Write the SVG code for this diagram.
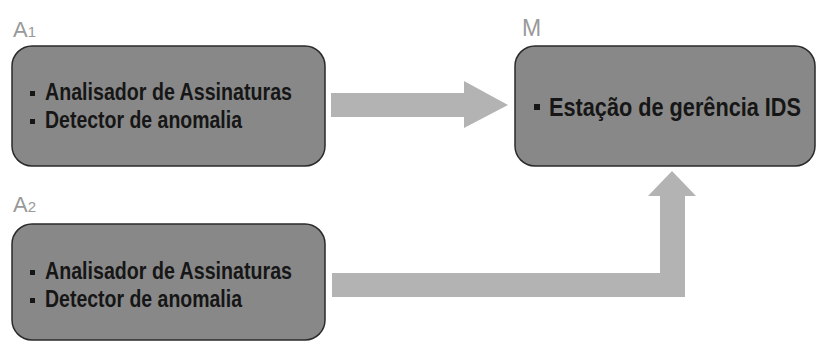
<svg xmlns="http://www.w3.org/2000/svg" width="818" height="341" viewBox="0 0 818 341">
<style>
.box{fill:#888888;stroke:#2a2a2a;stroke-width:1.5}
.lbl{font-family:"Liberation Sans",Arial,sans-serif;fill:#999999}
.txt{font-family:"Liberation Sans",Arial,sans-serif;font-weight:bold;fill:#161616;font-size:23px}
.bul{fill:#161616}
.arr{fill:#b3b3b3}
</style>
<rect width="818" height="341" fill="#ffffff"/>
<g id="connectors">
<polygon class="arr" points="331,93 464,93 464,81 508,105 464,128 464,117 331,117"/>
<polygon class="arr" points="332,273 660,273 660,196 648,196 672,171 696,196 685,196 685,297 332,297"/>
</g>
<g id="A1">
<text class="lbl" x="13" y="37" font-size="22">A<tspan font-size="15">1</tspan></text>
<rect class="box" x="12" y="46" width="313" height="120" rx="20" ry="20"/>
<rect class="bul" x="30" y="91" width="5" height="5"/>
<text class="txt" x="45" y="100" textLength="247" lengthAdjust="spacingAndGlyphs">Analisador de Assinaturas</text>
<rect class="bul" x="30" y="119" width="5" height="5"/>
<text class="txt" x="45" y="128" textLength="197" lengthAdjust="spacingAndGlyphs">Detector de anomalia</text>
</g>
<g id="A2">
<text class="lbl" x="13" y="212" font-size="22">A<tspan font-size="15">2</tspan></text>
<rect class="box" x="12" y="224" width="313" height="116" rx="20" ry="20"/>
<rect class="bul" x="30" y="270" width="5" height="5"/>
<text class="txt" x="45" y="279" textLength="247" lengthAdjust="spacingAndGlyphs">Analisador de Assinaturas</text>
<rect class="bul" x="30" y="298" width="5" height="5"/>
<text class="txt" x="45" y="307" textLength="197" lengthAdjust="spacingAndGlyphs">Detector de anomalia</text>
</g>
<g id="M">
<text class="lbl" x="522" y="36" font-size="23">M</text>
<rect class="box" x="515" y="46" width="300" height="120" rx="20" ry="20"/>
<rect class="bul" x="534" y="104" width="6" height="6"/>
<text class="txt" x="549" y="116" style="font-size:25px" textLength="252" lengthAdjust="spacingAndGlyphs">Estação de gerência IDS</text>
</g>
</svg>
